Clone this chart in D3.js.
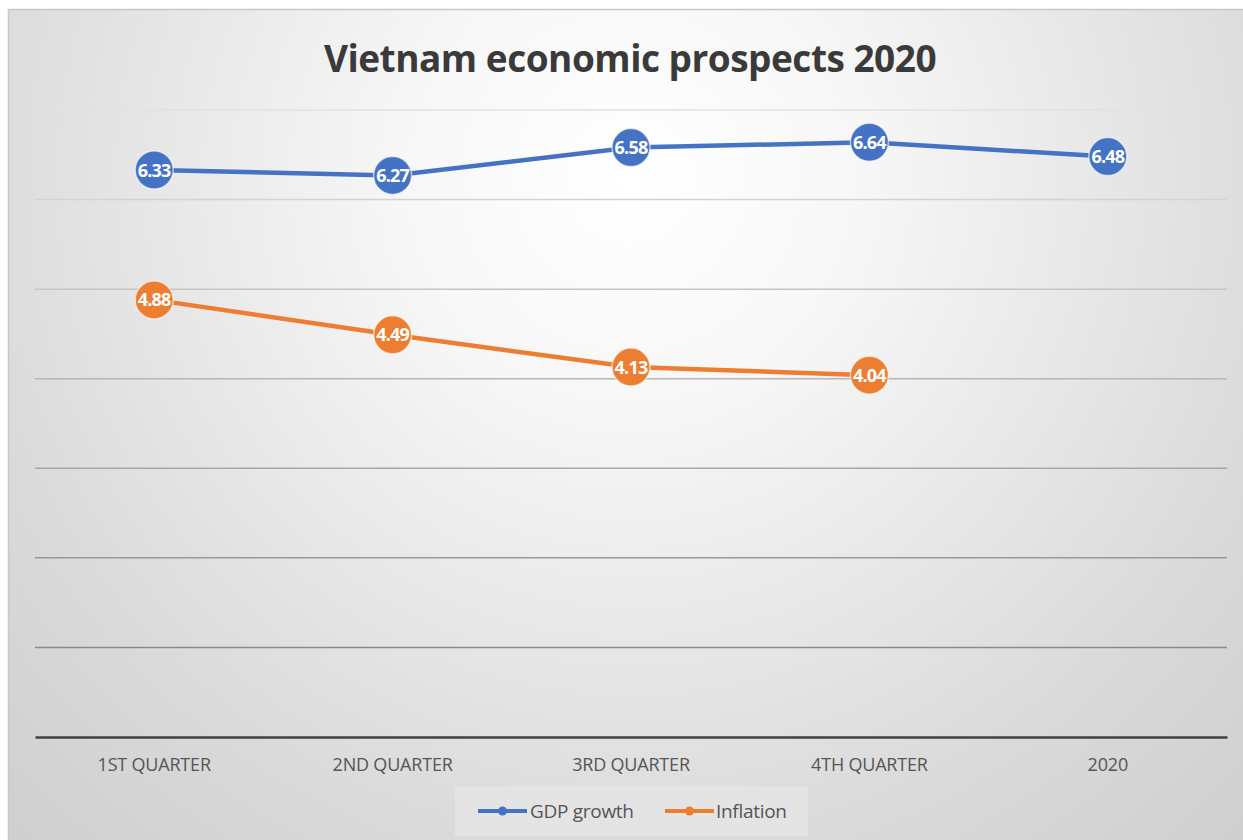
<!DOCTYPE html>
<html><head><meta charset="utf-8">
<script src="https://cdn.jsdelivr.net/npm/d3@7"></script>
<style>body{margin:0;background:#fff;}svg{display:block;}</style>
</head><body>
<svg id="chart" width="1243" height="840"></svg>
<script>
const categories = ["1ST QUARTER","2ND QUARTER","3RD QUARTER","4TH QUARTER","2020"];
const gdpGrowth = [6.33, 6.27, 6.58, 6.64, 6.48];
const inflation = [4.88, 4.49, 4.13, 4.04, null];
const yTicks = [0,1,2,3,4,5,6,7];
const seriesNames = ["GDP growth","Inflation"];
const colors = ["#4472C4","#ED7D31"];

const svg = d3.select("#chart");
const defs = svg.append("defs");
const rg = defs.append("radialGradient").attr("id","bg")
  .attr("gradientUnits","userSpaceOnUse").attr("cx",630).attr("cy",180).attr("r",900);
rg.append("stop").attr("offset","0%").attr("stop-color","#ffffff");
rg.append("stop").attr("offset","25%").attr("stop-color","#f7f7f7");
rg.append("stop").attr("offset","75%").attr("stop-color","#dadada");
rg.append("stop").attr("offset","100%").attr("stop-color","#cfcfcf");

svg.append("rect").attr("x",8.5).attr("y",9.5).attr("width",1250).attr("height",840)
  .attr("fill","url(#bg)").attr("stroke","#c8c8c8").attr("stroke-width",1.5);

const x = d3.scaleBand().domain(categories).range([35,1227]);
const y = d3.scaleLinear().domain([0,7]).range([737,110]);

const gridCol = d3.scaleLinear().domain([7,1]).range(["#e2e2e2","#8a8a8a"]);
svg.append("g").selectAll("line").data(yTicks.filter(d=>d>0)).join("line")
  .attr("x1",35).attr("x2",1227).attr("y1",d=>y(d)).attr("y2",d=>y(d))
  .attr("stroke",d=>gridCol(d)).attr("stroke-width",1.5);

const xAxis = svg.append("g").attr("transform",`translate(0,${y(0)})`)
  .call(d3.axisBottom(x).tickSize(0).tickPadding(21));
xAxis.select(".domain").attr("stroke","#404040").attr("stroke-width",2.5);
xAxis.selectAll("text").attr("font-family","'Open Sans', sans-serif").attr("font-size",18)
  .attr("fill","#555").attr("letter-spacing","-0.2");

svg.append("text").attr("x",630).attr("y",72).attr("text-anchor","middle")
  .attr("font-family","'Open Sans', sans-serif").attr("font-weight",700).attr("font-size",37)
  .attr("fill","#3a3a3a").attr("letter-spacing","-0.5").text("Vietnam economic prospects 2020");

const series = [gdpGrowth, inflation];
series.forEach((vals,i)=>{
  const pts = vals.map((v,j)=>({c:categories[j],v})).filter(d=>d.v!=null);
  const line = d3.line().x(d=>x(d.c)+x.bandwidth()/2).y(d=>y(d.v));
  svg.append("path").datum(pts).attr("d",line).attr("fill","none")
    .attr("stroke",colors[i]).attr("stroke-width",4.5).attr("stroke-linecap","round");
  const g = svg.append("g");
  g.selectAll("circle").data(pts).join("circle")
    .attr("cx",d=>x(d.c)+x.bandwidth()/2).attr("cy",d=>y(d.v)).attr("r",19)
    .attr("fill",colors[i]).attr("stroke","#fff").attr("stroke-opacity",0.6).attr("stroke-width",1.5);
  g.selectAll("text").data(pts).join("text")
    .attr("x",d=>x(d.c)+x.bandwidth()/2).attr("y",d=>y(d.v)+6.5).attr("text-anchor","middle")
    .attr("font-family","'Open Sans', sans-serif").attr("font-weight",700).attr("font-size",18)
    .attr("letter-spacing","-0.8").attr("fill","#fff").text(d=>d.v.toFixed(2));
});

// legend
svg.append("rect").attr("x",455).attr("y",786).attr("width",353).attr("height",50).attr("fill","#e4e4e4");
const legX = [478, 665];
const legTextX = [530, 716];
seriesNames.forEach((n,i)=>{
  svg.append("line").attr("x1",legX[i]).attr("x2",legX[i]+49).attr("y1",811).attr("y2",811)
    .attr("stroke",colors[i]).attr("stroke-width",4);
  svg.append("circle").attr("cx",legX[i]+24.5).attr("cy",811).attr("r",4.5).attr("fill",colors[i]);
  svg.append("text").attr("x",legTextX[i]).attr("y",818)
    .attr("font-family","'Open Sans', sans-serif").attr("font-size",19).attr("fill","#555")
    .attr("letter-spacing","-0.3").text(n);
});
</script>
</body></html>
